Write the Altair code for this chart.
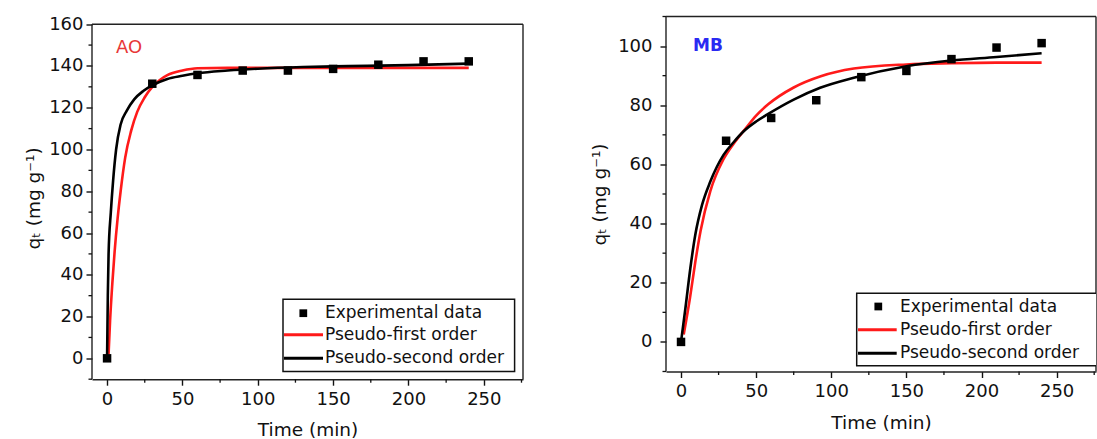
import altair as alt
import pandas as pd

# ---- sampling times of the kinetic experiments (min) ----
t_exp = [0, 30, 60, 90, 120, 150, 180, 210, 240]

# ---- AO: measured uptake and fitted curves (mg/g) ----
ao_exp = [0, 131.5, 135.7, 137.8, 137.8, 138.6, 140.6, 142.2, 142.2]
ao_pfo_t = [1, 2, 3.5, 5, 7, 9, 12, 16, 20, 25, 30, 35, 40, 50, 60, 80, 100, 150, 200, 240]
ao_pfo_q = [2, 18, 36, 51, 67, 80, 96, 109, 118, 125, 130, 133.3, 135.6, 137.8, 138.9, 139.1,
            139.1, 139.1, 139.1, 139.1]
ao_pso_t = [0, 0.5, 1, 2.5, 4, 6, 9, 13, 18, 24, 30, 40, 50, 60, 80, 100, 130, 160, 200, 240]
ao_pso_q = [0, 30, 50, 70, 85, 100, 112, 118.5, 124, 128, 130.7, 133.8, 135.3, 136.5, 137.8,
            138.7, 139.5, 139.9, 140.4, 141.1]

# ---- MB: measured uptake and fitted curves (mg/g) ----
mb_exp = [0, 68.0, 75.7, 81.7, 89.5, 91.6, 95.6, 99.5, 101.0]
mb_pfo_t = [1.8, 6, 9.5, 13, 19.5, 28, 35, 42, 50, 58, 75, 93, 115, 150, 180, 210, 240]
mb_pfo_q = [2.5, 15, 27, 37.5, 51, 61.5, 67, 71.5, 76.5, 80.3, 86, 89.8, 92.4, 93.8, 94.2,
            94.4, 94.4]
mb_pso_t = [0, 2.9, 6.2, 9.5, 14, 19.5, 28.4, 35, 41.7, 50, 57.2, 75, 92.6, 115, 150, 180, 210, 240]
mb_pso_q = [0, 11.3, 24.9, 36.2, 46.3, 54.2, 63.3, 67.5, 71.2, 74.5, 76.8, 81.9, 85.9, 89.3,
            93.2, 95.1, 96.3, 97.6]

# ---- axis ticks ----
x_major = [0, 50, 100, 150, 200, 250]
x_minor = [25, 75, 125, 175, 225, 275]
ao_y_major = [0, 20, 40, 60, 80, 100, 120, 140, 160]
ao_y_minor = [-10, 10, 30, 50, 70, 90, 110, 130, 150]
mb_y_major = [0, 20, 40, 60, 80, 100]
mb_y_minor = [-10, 10, 30, 50, 70, 90, 110]

legend_labels = ["Experimental data", "Pseudo-first order", "Pseudo-second order"]

FONT = "DejaVu Sans"
INK = "#111111"
FRAME = "#222222"
RED = "#ff1a1a"


def panel(width, height, x_dom, y_dom, y_frame, y_major, y_minor, exp_q, pfo_t, pfo_q,
          pso_t, pso_q, tag, tag_color, tag_weight, tag_size, tag_xy, box, rows,
          y_lab_pad, y_title_pad):
    x_axis = alt.Axis(values=x_major, title="Time (min)", tickSize=6, labelPadding=5,
                      titlePadding=12.5, grid=False, labelFlush=False, labelOverlap=False)
    y_axis = alt.Axis(values=y_major, title="qₜ (mg g⁻¹)", tickSize=6, labelPadding=y_lab_pad,
                      titlePadding=y_title_pad, grid=False, labelFlush=False,
                      labelOverlap=False, domain=False)
    xe = alt.X("t:Q", scale=alt.Scale(domain=x_dom, nice=False, zero=False), axis=x_axis)
    ye = alt.Y("q:Q", scale=alt.Scale(domain=y_dom, nice=False, zero=False), axis=y_axis)
    one = pd.DataFrame({"s": [0]})

    pfo = alt.Chart(pd.DataFrame({"t": pfo_t, "q": pfo_q})).mark_line(
        color=RED, strokeWidth=2.6, interpolate="monotone").encode(x=xe, y=ye)
    pso = alt.Chart(pd.DataFrame({"t": pso_t, "q": pso_q})).mark_line(
        color="#000000", strokeWidth=2.6, interpolate="monotone").encode(x=xe, y=ye)
    pts = alt.Chart(pd.DataFrame({"t": t_exp, "q": exp_q})).mark_square(
        color="#000000", size=72, opacity=1).encode(x=xe, y=ye)

    # plot frame: left, right and top edges (the bottom edge is the x-axis line)
    f_left = alt.Chart(one).mark_rule(color=FRAME, strokeWidth=1.4).encode(
        x=alt.value(0), y=alt.datum(y_frame), y2=alt.datum(y_dom[0]))
    f_right = alt.Chart(one).mark_rule(color=FRAME, strokeWidth=1.4).encode(
        x=alt.value(width), y=alt.datum(y_frame), y2=alt.datum(y_dom[0]))
    f_top = alt.Chart(one).mark_rule(color=FRAME, strokeWidth=1.4).encode(
        y=alt.datum(y_frame), x=alt.value(0), x2=alt.value(width))

    # minor ticks on the left and bottom axes
    y_min_ticks = alt.Chart(pd.DataFrame({"q": y_minor})).mark_rule(
        color=INK, strokeWidth=1.3).encode(y=ye, x=alt.value(-3.5), x2=alt.value(0))
    x_min_ticks = alt.Chart(pd.DataFrame({"t": x_minor})).mark_rule(
        color=INK, strokeWidth=1.3).encode(x=xe, y=alt.value(height), y2=alt.value(height + 3.5))

    tag_mark = alt.Chart(pd.DataFrame({"s": [tag]})).mark_text(
        align="left", baseline="middle", font=FONT, fontSize=tag_size,
        fontWeight=tag_weight, color=tag_color).encode(
        text="s:N", x=alt.value(tag_xy[0]), y=alt.value(tag_xy[1]))

    # legend box
    bx0, bx1, by0, by1 = box
    lg_box = alt.Chart(one).mark_rect(
        fill="white", stroke="#111111", strokeWidth=1.5, clip=True).encode(
        x=alt.value(bx0), x2=alt.value(bx1), y=alt.value(by0), y2=alt.value(by1))
    (sq_x, sq_y), (l0, l1, ry, ky), tx, ty = rows
    lg_sq = alt.Chart(one).mark_square(
        color="#000000", size=60, opacity=1).encode(x=alt.value(sq_x), y=alt.value(sq_y))
    lg_red = alt.Chart(one).mark_rule(
        color=RED, strokeWidth=3).encode(x=alt.value(l0), x2=alt.value(l1), y=alt.value(ry))
    lg_blk = alt.Chart(one).mark_rule(
        color="#000000", strokeWidth=3).encode(x=alt.value(l0), x2=alt.value(l1), y=alt.value(ky))
    lg_txt = []
    for lab, yy in zip(legend_labels, ty):
        lg_txt.append(alt.Chart(pd.DataFrame({"s": [lab]})).mark_text(
            align="left", baseline="middle", font=FONT, fontSize=17, color="#111111",
            clip=True).encode(text="s:N", x=alt.value(tx), y=alt.value(yy)))

    return alt.layer(pfo, pso, pts, f_left, f_right, f_top, y_min_ticks, x_min_ticks,
                     tag_mark, lg_box, lg_sq, lg_red, lg_blk, *lg_txt).properties(
        width=width, height=height, view=alt.ViewBackground(stroke=None))


# AO panel: the scale runs a little above 160 so that its frame sits lower than MB's
OFF = 7.7
left = panel(431, 355 + OFF, [-10, 276], [-10, 160 + OFF * 170 / 355], 160,
             ao_y_major, ao_y_minor, ao_exp,
             ao_pfo_t, ao_pfo_q, ao_pso_t, ao_pso_q,
             "AO", "#e83838", "normal", 18, (24, 23.5 + OFF),
             (191, 422.6, 275 + OFF, 347.3 + OFF),
             ((211.3, 289 + OFF), (192, 231, 310.6 + OFF, 334 + OFF), 233,
              (289 + OFF, 310.6 + OFF, 334 + OFF)),
             3, 5)

right = panel(430, 355, [-10, 276.2], [-10, 110], 110,
              mb_y_major, mb_y_minor, mb_exp,
              mb_pfo_t, mb_pfo_q, mb_pso_t, mb_pso_q,
              "MB", "#2a2af2", "bold", 17, (27, 29),
              (190.7, 450, 276.7, 349.3),
              ((212.3, 290), (192, 230.7, 313.3, 336.7), 234, (290, 313.3, 336.7)),
              8, 8)

chart = alt.hconcat(left, right, spacing=66).properties(
    padding={"left": 24, "top": 14.5, "right": 0, "bottom": 0},
    background="white",
).configure_axis(
    labelFont=FONT, titleFont=FONT, labelFontSize=18, titleFontSize=18.5,
    titleFontWeight="normal", labelColor=INK, titleColor=INK,
    domainColor=FRAME, tickColor=INK, domainWidth=1.4, tickWidth=1.4,
)

chart.save("out.html", embed_options={"renderer": "svg", "actions": False})
